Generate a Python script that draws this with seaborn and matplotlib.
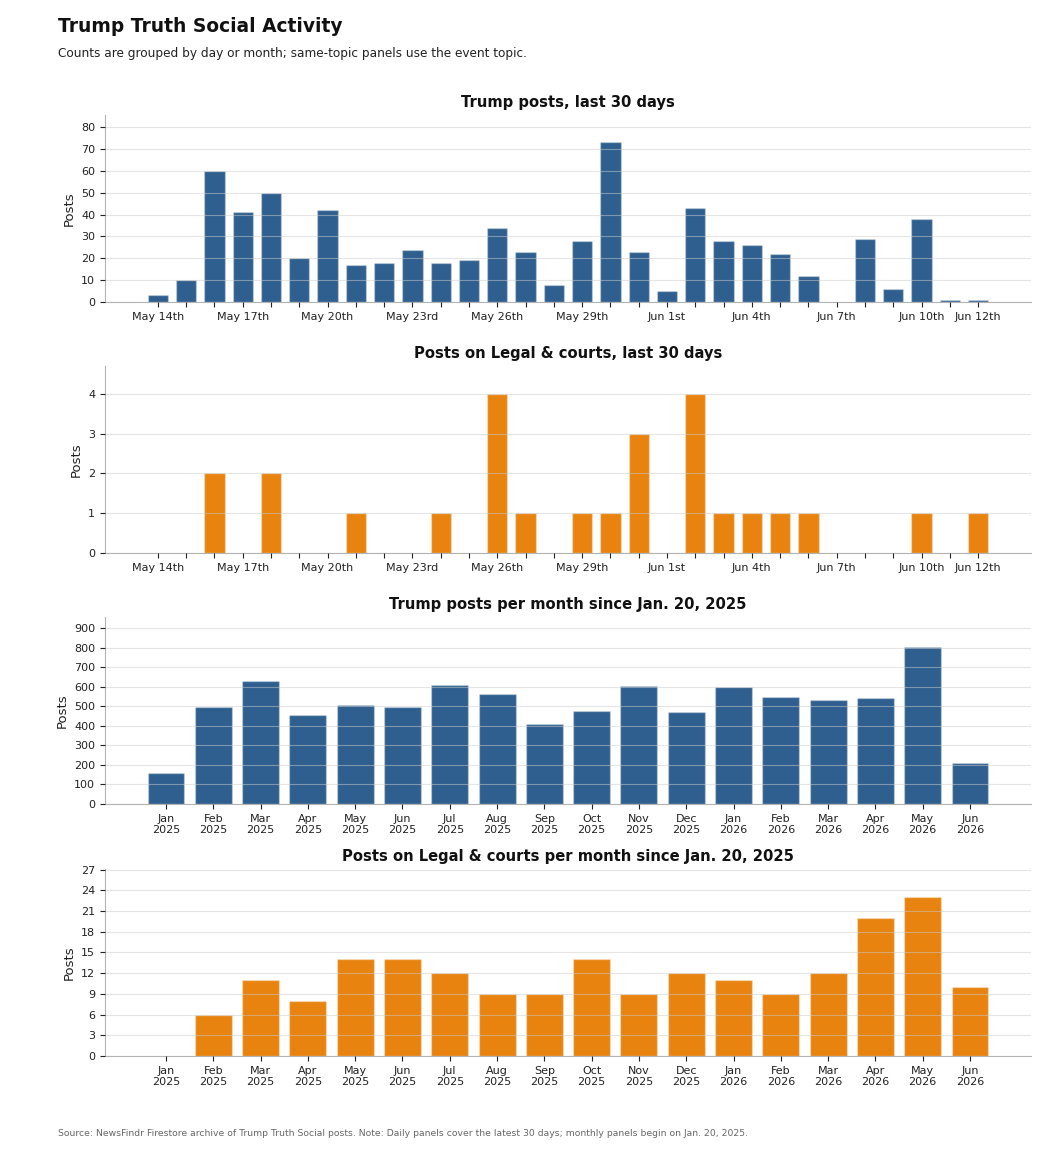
import matplotlib
matplotlib.use("Agg")
import matplotlib.pyplot as plt
import seaborn as sns
import pandas as pd

# ---------------- data ----------------
day_labels = ["May 14th", "May 15th", "May 16th", "May 17th", "May 18th", "May 19th",
              "May 20th", "May 21st", "May 22nd", "May 23rd", "May 24th", "May 25th",
              "May 26th", "May 27th", "May 28th", "May 29th", "May 30th", "May 31st",
              "Jun 1st", "Jun 2nd", "Jun 3rd", "Jun 4th", "Jun 5th", "Jun 6th",
              "Jun 7th", "Jun 8th", "Jun 9th", "Jun 10th", "Jun 11th", "Jun 12th"]
shown_day_labels = ["May 14th", "May 17th", "May 20th", "May 23rd", "May 26th",
                    "May 29th", "Jun 1st", "Jun 4th", "Jun 7th", "Jun 10th", "Jun 12th"]
daily_posts = [3, 10, 60, 41, 50, 20, 42, 17, 18, 24, 18, 19, 34, 23, 8, 28, 73, 23,
               5, 43, 28, 26, 22, 12, 0, 29, 6, 38, 1, 1]
daily_legal = [0, 0, 2, 0, 2, 0, 0, 1, 0, 0, 1, 0, 4, 1, 0, 1, 1, 3,
               0, 4, 1, 1, 1, 1, 0, 0, 0, 1, 0, 1]

month_labels = ["Jan\n2025", "Feb\n2025", "Mar\n2025", "Apr\n2025", "May\n2025", "Jun\n2025",
                "Jul\n2025", "Aug\n2025", "Sep\n2025", "Oct\n2025", "Nov\n2025", "Dec\n2025",
                "Jan\n2026", "Feb\n2026", "Mar\n2026", "Apr\n2026", "May\n2026", "Jun\n2026"]
monthly_posts = [158, 497, 630, 456, 507, 497, 610, 563, 410, 477, 604, 472,
                 598, 548, 533, 543, 803, 210]
monthly_legal = [0, 6, 11, 8, 14, 14, 12, 9, 9, 14, 9, 12, 11, 9, 12, 20, 23, 10]

BLUE = "#2f5f8f"
ORANGE = "#e8830f"

# ---------------- style ----------------
sns.set_style("ticks")
plt.rcParams["font.family"] = ["DejaVu Sans"]
plt.rcParams["axes.edgecolor"] = "#b3b3b3"
plt.rcParams["xtick.color"] = "#222222"
plt.rcParams["ytick.color"] = "#222222"

fig = plt.figure(figsize=(10.56, 11.52), dpi=100)

L, W, H = 105 / 1056, (1031 - 105) / 1056, 187 / 1152
bottoms = [1 - 302 / 1152, 1 - 553 / 1152, 1 - 804 / 1152, 1 - 1056 / 1152]
axes = [fig.add_axes([L, b, W, H]) for b in bottoms]

panels = [
    (day_labels, daily_posts, BLUE, "Trump posts, last 30 days", "daily",
     list(range(0, 90, 10)), 85.5),
    (day_labels, daily_legal, ORANGE, "Posts on Legal & courts, last 30 days", "daily",
     [0, 1, 2, 3, 4], 4.7),
    (month_labels, monthly_posts, BLUE, "Trump posts per month since Jan. 20, 2025", "monthly",
     list(range(0, 1000, 100)), 956),
    (month_labels, monthly_legal, ORANGE, "Posts on Legal & courts per month since Jan. 20, 2025",
     "monthly", list(range(0, 30, 3)), 27.1),
]

for ax, (labels, values, color, title, kind, yticks, ytop) in zip(axes, panels):
    df = pd.DataFrame({"label": labels, "value": values})
    width = 0.72 if kind == "daily" else 0.78
    sns.barplot(data=df, x="label", y="value", color=color, width=width,
                edgecolor=(1, 1, 1, 0.3), linewidth=1.0, saturation=1, ax=ax)
    n = len(labels)
    pad = 1.87 if kind == "daily" else 1.29
    ax.set_xlim(-pad, n - 1 + pad)
    ax.set_ylim(0, ytop)
    ax.set_yticks(yticks)
    if kind == "daily":
        ax.set_xticks(range(n))
        ax.set_xticklabels([lab if lab in shown_day_labels else "" for lab in labels])
    ax.set_xlabel("")
    ax.set_ylabel("Posts", fontsize=9.5, color="#222222")
    ax.set_title(title, fontsize=10.6, fontweight="bold", color="#111111", pad=5.5)
    ax.tick_params(axis="both", labelsize=8, length=3.5, width=0.8, colors="#222222")
    ax.yaxis.grid(True, color="#cccccc", alpha=0.5, linewidth=0.8)
    ax.set_axisbelow(False)
    sns.despine(ax=ax)
    for s in ("left", "bottom"):
        ax.spines[s].set_color("#b3b3b3")

fig.text(58 / 1056, 1 - 26 / 1152, "Trump Truth Social Activity", fontsize=13.4,
         fontweight="bold", color="#111111", va="center", ha="left")
fig.text(58 / 1056, 1 - 54 / 1152,
         "Counts are grouped by day or month; same-topic panels use the event topic.",
         fontsize=8.7, color="#222222", va="center", ha="left")
fig.text(58 / 1056, 1 - 1133 / 1152,
         "Source: NewsFindr Firestore archive of Trump Truth Social posts. Note: Daily panels "
         "cover the latest 30 days; monthly panels begin on Jan. 20, 2025.",
         fontsize=6.7, color="#666666", va="center", ha="left")

fig.savefig("out.png", dpi=100)
